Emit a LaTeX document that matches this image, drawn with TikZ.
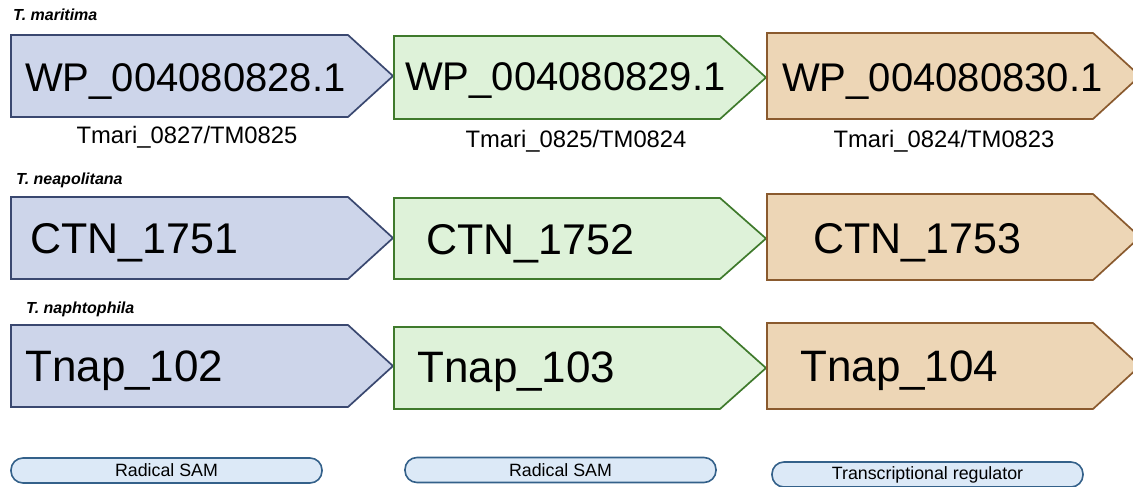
\documentclass[tikz,border=0pt]{standalone}
\usepackage{fontspec}
\setmainfont{Liberation Sans}
\definecolor{bluefill}{HTML}{CDD5EA}
\definecolor{bluedraw}{HTML}{3A4870}
\definecolor{greenfill}{HTML}{DEF2D9}
\definecolor{greendraw}{HTML}{3F7A2C}
\definecolor{brownfill}{HTML}{EDD6B6}
\definecolor{browndraw}{HTML}{8A5A2E}
\definecolor{pillfill}{HTML}{DCE9F7}
\definecolor{pilldraw}{HTML}{34618A}
% #1 style, #2 left, #3 top, #4 bottom, #5 body end, #6 tip
\newcommand\genearrow[6]{\draw[#1] (#2,#3) -- (#5,#3) -- (#6,{(#3+#4)/2}) -- (#5,#4) -- (#2,#4) -- cycle;}
\begin{document}
\begin{tikzpicture}[x=1pt,y=-1pt,
  gene/.style={line width=1.7pt,line join=miter},
  bluegene/.style={gene,fill=bluefill,draw=bluedraw},
  greengene/.style={gene,fill=greenfill,draw=greendraw},
  browngene/.style={gene,fill=brownfill,draw=browndraw},
  bigtext/.style={anchor=base west,inner sep=0pt,font=\fontsize{40}{40}\selectfont},
  midtext/.style={anchor=base west,inner sep=0pt,font=\fontsize{43}{43}\selectfont},
  lowtext/.style={anchor=base west,inner sep=0pt,font=\fontsize{44}{44}\selectfont},
  locus/.style={anchor=base,inner sep=0pt,font=\fontsize{23.8}{23.8}\selectfont},
  species/.style={anchor=base west,inner sep=0pt,font=\bfseries\itshape\fontsize{16}{16}\selectfont},
  pill/.style={draw=pilldraw,fill=pillfill,line width=1.6pt,rounded corners=12pt,
    minimum width=311pt,minimum height=25pt,inner sep=0pt,font=\fontsize{17.8}{17.8}\selectfont}]
\useasboundingbox (0,0) rectangle (1133,487);
\clip (0,0) rectangle (1133,487);

% row 1
\genearrow{bluegene}{11}{35}{117}{348}{393}
\genearrow{greengene}{394}{36}{119}{720}{766}
\genearrow{browngene}{767}{33}{119}{1093}{1140}
% row 2
\genearrow{bluegene}{11}{197}{279}{348}{393}
\genearrow{greengene}{394}{198}{279}{720}{766}
\genearrow{browngene}{767}{194}{280}{1093}{1140}
% row 3
\genearrow{bluegene}{11}{325}{407}{348}{393}
\genearrow{greengene}{394}{327}{409}{720}{766}
\genearrow{browngene}{767}{323}{409}{1093}{1140}

% species labels
\node[species] (sp1) at (13,21) {T. maritima};
\node[species] (sp2) at (16,184) {T. neapolitana};
\node[species] (sp3) at (26,313) {T. naphtophila};

% gene names
\node[bigtext] (g11) at (25,92) {WP\_004080828.1};
\node[bigtext] (g12) at (405,91) {WP\_004080829.1};
\node[bigtext] (g13) at (782,92) {WP\_004080830.1};
\node[midtext] (g21) at (30,253) {CTN\_1751};
\node[midtext] (g22) at (426,254) {CTN\_1752};
\node[midtext] (g23) at (813,253) {CTN\_1753};
\node[lowtext] (g31) at (25,381) {Tnap\_102};
\node[lowtext] (g32) at (417,382) {Tnap\_103};
\node[lowtext] (g33) at (800,381) {Tnap\_104};

% locus tags
\node[locus] (l1) at (187,143) {Tmari\_0827/TM0825};
\node[locus] (l2) at (576,147) {Tmari\_0825/TM0824};
\node[locus] (l3) at (944,147) {Tmari\_0824/TM0823};

% annotation pills
\node[pill] (p1) at (166.5,470.5) {Radical SAM};
\node[pill] (p2) at (560.5,470) {Radical SAM};
\node[pill] (p3) at (927.5,474.5) {Transcriptional regulator};
\end{tikzpicture}
\end{document}
